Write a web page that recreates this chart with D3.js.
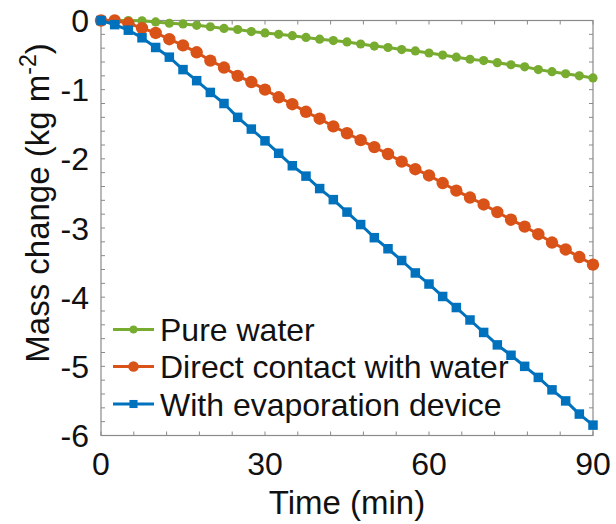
<!DOCTYPE html>
<html>
<head>
<meta charset="utf-8">
<script src="https://cdn.jsdelivr.net/npm/d3@7"></script>
<style>
  body { margin: 0; background: #fff; }
  text { font-family: "Liberation Sans", Arial, sans-serif; }
</style>
</head>
<body>
<svg id="chart" width="616" height="524"></svg>
<script>
// time points (min), one every 2.5 min
const times = d3.range(0, 90.01, 2.5);

// mass change (kg m^-2)
const pureWater = [0, 0, 0, -0.005, -0.02, -0.04, -0.05, -0.07, -0.09, -0.115, -0.13, -0.16, -0.18,
  -0.2, -0.22, -0.245, -0.27, -0.29, -0.31, -0.34, -0.37, -0.39, -0.42, -0.44, -0.47, -0.5, -0.53,
  -0.56, -0.58, -0.61, -0.64, -0.67, -0.71, -0.74, -0.77, -0.8, -0.83];
const directContact = [0, 0, -0.04, -0.11, -0.18, -0.27, -0.36, -0.46, -0.58, -0.68, -0.8, -0.89,
  -1.0, -1.11, -1.21, -1.32, -1.42, -1.53, -1.63, -1.73, -1.83, -1.93, -2.04, -2.15, -2.24, -2.35,
  -2.46, -2.56, -2.66, -2.77, -2.88, -2.98, -3.09, -3.21, -3.31, -3.42, -3.53];
const withDevice = [0, -0.06, -0.14, -0.25, -0.39, -0.53, -0.71, -0.87, -1.04, -1.2, -1.4, -1.57,
  -1.74, -1.92, -2.1, -2.25, -2.43, -2.59, -2.77, -2.95, -3.14, -3.3, -3.47, -3.65, -3.81, -3.99,
  -4.15, -4.33, -4.51, -4.69, -4.84, -5.0, -5.16, -5.34, -5.5, -5.69, -5.85];

const seriesNames = ["Pure water", "Direct contact with water", "With evaporation device"];
const seriesColors = ["#77AC30", "#D95319", "#0072BD"];
const xTicks = [0, 30, 60, 90];
const yTicks = [0, -1, -2, -3, -4, -5, -6];

const series = [
  {name: seriesNames[0], color: seriesColors[0], values: pureWater, shape: "dot"},
  {name: seriesNames[1], color: seriesColors[1], values: directContact, shape: "circle"},
  {name: seriesNames[2], color: seriesColors[2], values: withDevice, shape: "square"}
];

const svg = d3.select("#chart");
const pLeft = 101, pRight = 593, pTop = 20.5, pBottom = 435.5;

const x = d3.scaleLinear().domain([0, 90]).range([pLeft, pRight]);
const y = d3.scaleLinear().domain([-6, 0]).range([pBottom, pTop]);

const axisColor = "#8a8a8a";
const tickLen = 4;
const fs = 32;

// minor + major ticks, inward on all four sides
const xMinor = d3.range(0, 90.01, 6);
const yMinor = d3.range(-6, 0.001, 0.2);

const g = svg.append("g");
xMinor.forEach(v => {
  g.append("line").attr("x1", x(v)).attr("x2", x(v)).attr("y1", pBottom).attr("y2", pBottom - tickLen)
    .attr("stroke", axisColor);
  g.append("line").attr("x1", x(v)).attr("x2", x(v)).attr("y1", pTop).attr("y2", pTop + tickLen)
    .attr("stroke", axisColor);
});
yMinor.forEach(v => {
  g.append("line").attr("y1", y(v)).attr("y2", y(v)).attr("x1", pLeft).attr("x2", pLeft + tickLen)
    .attr("stroke", axisColor);
  g.append("line").attr("y1", y(v)).attr("y2", y(v)).attr("x1", pRight).attr("x2", pRight - tickLen)
    .attr("stroke", axisColor);
});

// box
g.append("rect").attr("x", pLeft).attr("y", pTop).attr("width", pRight - pLeft).attr("height", pBottom - pTop)
  .attr("fill", "none").attr("stroke", axisColor).attr("stroke-width", 1.2);

// tick labels
svg.append("g").selectAll("text").data(xTicks).join("text")
  .attr("x", d => x(d)).attr("y", 475)
  .attr("text-anchor", "middle").attr("font-size", fs).attr("fill", "#111")
  .text(d => d);

svg.append("g").selectAll("text").data(yTicks).join("text")
  .attr("x", 89).attr("y", d => y(d) + 11.5)
  .attr("text-anchor", "end").attr("font-size", fs).attr("fill", "#111")
  .text(d => d);

// axis titles
svg.append("text").attr("x", (pLeft + pRight) / 2).attr("y", 514)
  .attr("text-anchor", "middle").attr("font-size", fs + 1).attr("fill", "#111")
  .text("Time (min)");

const yt = svg.append("text")
  .attr("transform", "translate(49,203) rotate(-90)")
  .attr("text-anchor", "middle").attr("font-size", fs + 1).attr("fill", "#111");
yt.append("tspan").text("Mass change (kg m");
yt.append("tspan").attr("font-size", 23).attr("dy", -13).text("-2");
yt.append("tspan").attr("dy", 13).text(")");

// lines and markers
const line = d3.line().x((d, i) => x(times[i])).y(d => y(d));

function drawMarker(sel, shape, color, cx, cy, scale) {
  if (shape === "square") {
    const s = 9.5 * scale;
    sel.append("rect").attr("x", cx - s / 2).attr("y", cy - s / 2).attr("width", s).attr("height", s)
      .attr("fill", color);
  } else {
    const r = (shape === "dot" ? 4.6 : 6.2) * scale;
    sel.append("circle").attr("cx", cx).attr("cy", cy).attr("r", r).attr("fill", color);
  }
}

series.forEach(s => {
  const sg = svg.append("g");
  sg.append("path").attr("d", line(s.values)).attr("fill", "none")
    .attr("stroke", s.color).attr("stroke-width", 3);
  s.values.forEach((v, i) => drawMarker(sg, s.shape, s.color, x(times[i]), y(v), 1));
});

// legend
const legY = [329.5, 366.5, 404];
series.forEach((s, i) => {
  const lg = svg.append("g");
  lg.append("line").attr("x1", 113).attr("x2", 154).attr("y1", legY[i]).attr("y2", legY[i])
    .attr("stroke", s.color).attr("stroke-width", 3);
  drawMarker(lg, s.shape, s.color, 133.5, legY[i], 0.85);
  lg.append("text").attr("x", 160).attr("y", legY[i] + 11.5)
    .attr("font-size", fs).attr("fill", "#111").text(s.name);
});
</script>
</body>
</html>
